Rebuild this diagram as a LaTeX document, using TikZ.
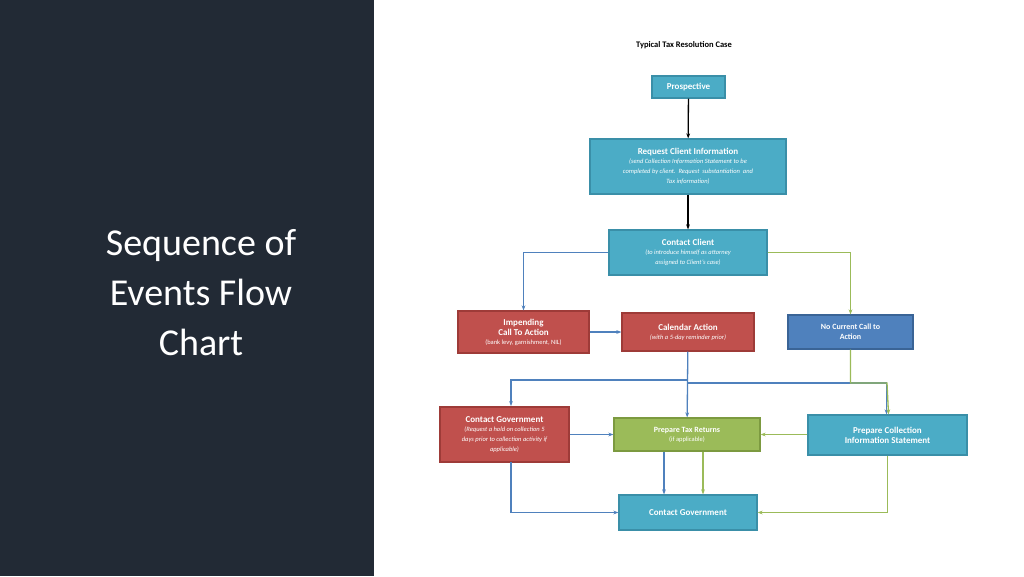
\documentclass[tikz,border=0pt]{standalone}
\usepackage{fontspec}
\setmainfont{Carlito}
\usetikzlibrary{arrows.meta}
\definecolor{panel}{HTML}{222A35}
\definecolor{teal}{HTML}{4BACC6}
\definecolor{tealb}{HTML}{3A8FA8}
\definecolor{redc}{HTML}{C0504D}
\definecolor{redcb}{HTML}{9E3B38}
\definecolor{bluec}{HTML}{4F81BD}
\definecolor{bluecb}{HTML}{3A6496}
\definecolor{greenc}{HTML}{9BBB59}
\definecolor{greencb}{HTML}{7C9A40}
\newcommand\subtx{\fontsize{6.5}{8}\selectfont\mdseries\itshape}
\tikzset{
 box/.style={draw=#1b, fill=#1, line width=1.2pt, text=white, align=center, inner sep=1pt, font=\fontsize{9}{10}\selectfont\bfseries},
 bl/.style={draw=bluec, line width=1.3pt, -{Stealth[length=5pt]}},
 gr/.style={draw=greenc, line width=1.3pt, -{Stealth[length=5pt]}},
 bk/.style={draw=black, line width=1.3pt, -{Stealth[length=5pt]}},
}
\begin{document}
\begin{tikzpicture}[x=1pt,y=-1pt]
\useasboundingbox (0,0) rectangle (1024,576);
\fill[white] (0,0) rectangle (1024,576);
\fill[panel] (0,0) rectangle (374,576);
\node[text=white, align=center, font=\fontsize{38}{50}\selectfont] (title) at (201,293) {Sequence of\\Events Flow\\Chart};
\node[font=\fontsize{8.5}{10}\selectfont\bfseries] (head) at (684,45) {Typical Tax Resolution Case};
\node[box=teal, minimum width=73pt, minimum height=22pt] (pro) at (688.5,87) {Prospective};
\node[box=teal, minimum width=196pt, minimum height=55pt] (req) at (688,166.5) {Request Client Information\\[-1pt]{\subtx(send Collection Information Statement to be}\\{\subtx completed by client.\ \ Request\ \ substantiation\ \ and}\\{\subtx Tax information)}};
\node[box=teal, minimum width=158pt, minimum height=45pt] (cc) at (688,252.5) {Contact Client\\[-1pt]{\subtx(to introduce himself as attorney}\\{\subtx assigned to Client's case)}};
\node[box=redc, minimum width=131pt, minimum height=42pt] (imp) at (523.5,332) {Impending\\Call To Action\\[-1pt]{\fontsize{6.5}{8}\selectfont\mdseries(bank levy, garnishment, NIL)}};
\node[box=redc, minimum width=132pt, minimum height=38pt] (cal) at (688,332) {Calendar Action\\[-1pt]{\subtx(with a 5-day reminder prior)}};
\node[box=bluec, minimum width=125pt, minimum height=34pt, font=\fontsize{8}{10}\selectfont\bfseries] (nc) at (850.5,332) {No Current Call to\\Action};
\node[box=redc, minimum width=129pt, minimum height=55pt] (cg1) at (504.5,434.5) {Contact Government\\[-1pt]{\subtx(Request a hold on collection 5}\\{\subtx days prior to collection activity if}\\{\subtx applicable)}};
\node[box=greenc, minimum width=146pt, minimum height=33pt, font=\fontsize{8}{10}\selectfont\bfseries] (ptr) at (687,434.5) {Prepare Tax Returns\\[-1pt]{\fontsize{6.5}{8}\selectfont\mdseries(if applicable)}};
\node[box=teal, minimum width=159pt, minimum height=40pt] (pcis) at (887.5,435) {Prepare Collection\\Information Statement};
\node[box=teal, minimum width=138pt, minimum height=35pt, font=\fontsize{9}{10}\selectfont\bfseries] (cg2) at (688,512.5) {Contact Government};
\draw[bk] (pro) -- (req);
\draw[bk] (req) -- (cc);
\draw[bl] (cc.west) -| (imp.north);
\draw[gr] (cc.east) -| (nc.north);
\draw[bl] (imp) -- (cal);
\draw[bl] (cal) -- (ptr);
\coordinate (j1) at (688,380);
\coordinate (j2) at (688,383);
\coordinate (t1) at (511,406);
\coordinate (b1) at (511,462);
\coordinate (g1) at (887,383);
\draw[bl] (j1) -| (t1);
\draw[bl] (j2) -| ([xshift=-1pt]pcis.north);
\draw[gr] (nc.south) |- (g1) -- ([xshift=1pt]pcis.north);
\draw[bl] (cg1.east |- ptr.west) -- (ptr.west);
\draw[gr] (pcis.west |- ptr.east) -- (ptr.east);
\draw[bl] ([xshift=-23pt]ptr.south) -- ([xshift=-23pt]ptr.south |- cg2.north);
\draw[gr] ([xshift=16pt]ptr.south) -- ([xshift=16pt]ptr.south |- cg2.north);
\draw[bl] (b1) |- (cg2.west);
\draw[gr] (pcis.south) |- (cg2.east);
\end{tikzpicture}
\end{document}
